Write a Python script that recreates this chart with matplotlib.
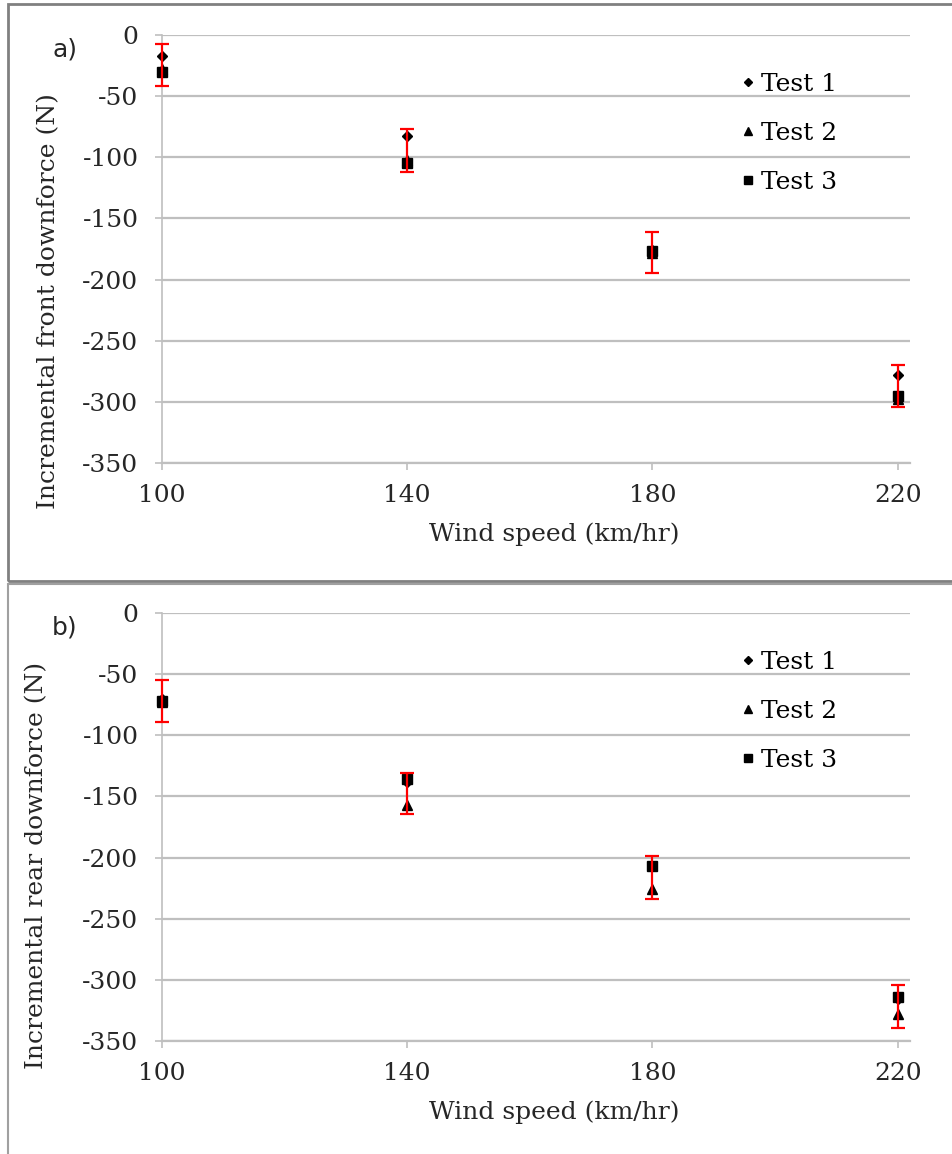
import numpy as np
import matplotlib.pyplot as plt
from matplotlib.patches import Rectangle

# =============================================================================
# DATA
# =============================================================================
wind_speed = [100, 140, 180, 220]

front_test1 = [-17, -83, -176, -278]
front_test2 = [-28, -102, -178, -298]
front_test3 = [-30, -105, -177, -295]
front_err_top = [-7, -77, -161, -270]
front_err_bottom = [-42, -112, -195, -304]

rear_test1 = [-70, -138, -207, -316]
rear_test2 = [-73, -157, -226, -328]
rear_test3 = [-72, -136, -207, -314]
rear_err_top = [-55, -131, -199, -304]
rear_err_bottom = [-89, -164, -234, -339]

y_ticks = [0, -50, -100, -150, -200, -250, -300, -350]
x_ticks = [100, 140, 180, 220]
# =============================================================================

W, H = 953, 1154
GRID = "#bfbfbf"
TXT = "#262626"
FS = 18

plt.rcParams["font.family"] = "DejaVu Serif"
plt.rcParams["axes.unicode_minus"] = False


def draw_panel(ax, t1, t2, t3, err_top, err_bottom, tag, ylabel, ylabel_y, ylabel_x):
    x = np.array(wind_speed)
    ax.plot(x, t1, linestyle="none", marker="D", markersize=5, color="black",
            label="Test 1", zorder=3, clip_on=False)
    ax.plot(x, t2, linestyle="none", marker="^", markersize=7, color="black",
            label="Test 2", zorder=3, clip_on=False)
    ax.plot(x, t3, linestyle="none", marker="s", markersize=7, color="black",
            label="Test 3", zorder=3, clip_on=False)

    top = np.array(err_top, dtype=float)
    bot = np.array(err_bottom, dtype=float)
    mid = (top + bot) / 2
    half = (top - bot) / 2
    eb = ax.errorbar(x, mid, yerr=half, fmt="none", ecolor="red", elinewidth=1.6,
                     capsize=5, capthick=1.6, zorder=4)
    for art in eb.lines[1] + eb.lines[2]:
        art.set_clip_on(False)

    ax.set_xlim(100, 222)
    ax.set_ylim(-350, 0)
    ax.set_xticks(x_ticks)
    ax.set_yticks(y_ticks)
    ax.tick_params(axis="both", direction="out", length=5, width=1.2, color=GRID,
                   labelsize=FS, labelcolor=TXT)
    ax.tick_params(axis="y", pad=12)
    ax.tick_params(axis="x", pad=10)

    ax.grid(True, axis="y", color=GRID, linewidth=1.6)
    ax.set_axisbelow(True)
    for side in ["top", "right"]:
        ax.spines[side].set_visible(False)
    ax.spines["left"].set_color(GRID)
    ax.spines["left"].set_linewidth(1.2)
    ax.spines["bottom"].set_color(GRID)
    ax.spines["bottom"].set_linewidth(1.6)

    ax.set_xlabel("Wind speed (km/hr)", fontsize=FS, color=TXT)
    ax.xaxis.set_label_coords(0.525, -0.14)
    ax.set_ylabel(ylabel, fontsize=FS, color=TXT)
    ax.yaxis.set_label_coords(ylabel_x, ylabel_y)

    ax.text(-0.13, 0.965, tag, transform=ax.transAxes, fontsize=FS,
            family="DejaVu Sans", color=TXT, ha="center", va="center")

    ax.legend(loc="upper left", bbox_to_anchor=(0.773, 0.912), frameon=False,
              fontsize=FS, handlelength=0.6, handletextpad=0.25, labelspacing=1.05,
              markerscale=0.8, borderaxespad=0, borderpad=0)


fig = plt.figure(figsize=(W / 100, H / 100), dpi=100)

# panel borders
fig.patches.append(Rectangle((8 / W, 1 - 581 / H), 960 / W, 577 / H, transform=fig.transFigure,
                             fill=False, edgecolor="#808080", linewidth=2))
fig.patches.append(Rectangle((8 / W, -0.01), 960 / W, 1 - 584 / H + 0.01, transform=fig.transFigure,
                             fill=False, edgecolor="#a0a0a0", linewidth=1.5))

ax1 = fig.add_axes([162 / W, 1 - 463 / H, 748 / W, 428 / H])
draw_panel(ax1, front_test1, front_test2, front_test3, front_err_top, front_err_bottom,
           "a)", "Incremental front downforce (N)", 0.378, -0.136)

ax2 = fig.add_axes([162 / W, 1 - 1041 / H, 748 / W, 428 / H])
draw_panel(ax2, rear_test1, rear_test2, rear_test3, rear_err_top, rear_err_bottom,
           "b)", "Incremental rear downforce (N)", 0.41, -0.152)

fig.savefig("out.png", dpi=100)
